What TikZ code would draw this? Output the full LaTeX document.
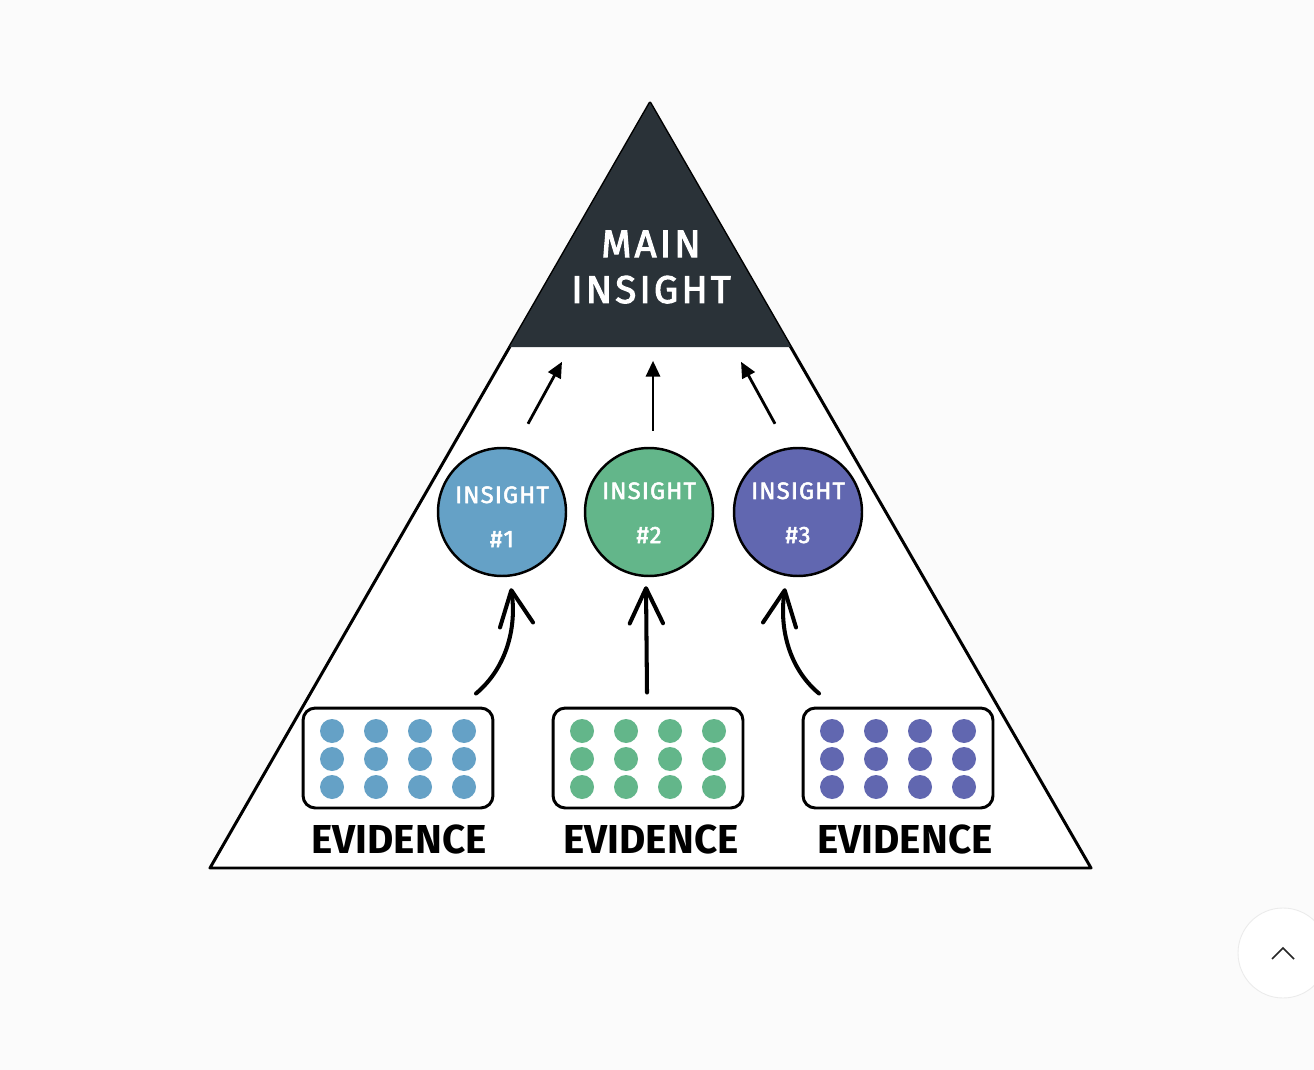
\documentclass[tikz,border=0pt]{standalone}
\usepackage{fontspec}
\setmainfont{Fira Sans}
\newfontfamily\medfont{Fira Sans}[FakeBold=2.6, LetterSpace=8]
\newfontfamily\medsmallfont{Fira Sans}[FakeBold=2.2, LetterSpace=5]
\usetikzlibrary{
    positioning,
    arrows.meta,
    calc
}
\definecolor{PageGray}{RGB}{251,251,251}
\definecolor{PeakDark}{RGB}{42,50,56}
\definecolor{InsBlue}{RGB}{101,161,198}
\definecolor{InsGreen}{RGB}{99,182,138}
\definecolor{InsPurple}{RGB}{97,103,176}
\definecolor{BtnEdge}{RGB}{235,235,235}

\begin{document}
\begin{tikzpicture}[
    x=0.02cm, y=-0.02cm,
    insight/.style={circle, draw, line width=1.4pt, minimum size=2.56cm, inner sep=0pt},
    evbox/.style={rectangle, rounded corners=7pt, draw, line width=1.7pt, minimum width=3.8cm, minimum height=2cm},
    evlbl/.style={font=\fontsize{23}{26}\selectfont\bfseries, anchor=base},
    inslbl/.style={font=\medsmallfont\fontsize{13.5}{16}\selectfont, text=white, anchor=base},
    toparr/.style={line width=1.6pt, -{Triangle[length=9pt, width=8pt]}},
    upcurve/.style={line width=2.3pt, line cap=round, -{Straight Barb[length=20pt, width=19pt, round]}},
]
\fill[PageGray] (0,0) rectangle (1314,1070);
\useasboundingbox (0,0) rectangle (1314,1070);

% pyramide
\coordinate (apex) at (650,103);
\coordinate (bl) at (210,868);
\coordinate (br) at (1091,868);
\filldraw[fill=white, line width=1.7pt, line join=round] (apex) -- (bl) -- (br) -- cycle;
\fill[PeakDark] (apex) -- ($(apex)!0.319!(bl)$) -- ($(apex)!0.319!(br)$) -- cycle;
\node[font=\medfont\fontsize{22}{26}\selectfont, text=white, align=center] (main) at (651,267) {MAIN\\INSIGHT};

% insights
\node[insight, fill=InsBlue] (ins1) at (502,512) {};
\node[insight, fill=InsGreen] (ins2) at (649,512) {};
\node[insight, fill=InsPurple] (ins3) at (798,512) {};
\node[inslbl] (ins1a) at (502,503) {INSIGHT};
\node[inslbl] (ins1b) at (502,547) {\#1};
\node[inslbl] (ins2a) at (649,499) {INSIGHT};
\node[inslbl] (ins2b) at (649,543) {\#2};
\node[inslbl] (ins3a) at (798,499) {INSIGHT};
\node[inslbl] (ins3b) at (798,543) {\#3};

\draw[toparr] ($(ins1.north)+(26,-23)$) -- ++(34,-62);
\draw[toparr] ($(ins2.north)+(4,-16)$) -- ++(0,-70);
\draw[toparr] ($(ins3.north)+(-23,-23)$) -- ++(-34,-62);

% evidence
\foreach \i/\x/\col in {1/398/InsBlue, 2/648/InsGreen, 3/898/InsPurple}{
  \node[evbox] (ev\i) at (\x,758) {};
  \foreach \dx in {-66,-22,22,66}
    \foreach \dy in {-27,1,29}
      \fill[\col] ($(ev\i)+(\dx,\dy)$) circle (12);
}
\node[evlbl] (ev1l) at (399,853) {EVIDENCE};
\node[evlbl] (ev2l) at (651,853) {EVIDENCE};
\node[evlbl] (ev3l) at (905,853) {EVIDENCE};

\draw[upcurve] ($(ev1.north)+(78,-13)$) .. controls +(30,-25) and +(6,40) .. ($(ins1.south)+(9,11)$);
\draw[upcurve] ($(ev2.north)+(-1,-14)$) -- ($(ins2.south)+(-3,9)$);
\draw[upcurve] ($(ev3.north)+(-79,-13)$) .. controls +(-30,-25) and +(-6,40) .. ($(ins3.south)+(-13,11)$);

% bouton
\node[circle, draw=BtnEdge, fill=white, minimum size=1.8cm, line width=0.5pt] (btn) at (1283,953) {};
\draw[line width=0.9pt, black!85] ($(btn)+(-11,6)$) -- ($(btn)+(0,-5)$) -- ($(btn)+(11,6)$);
\end{tikzpicture}
\end{document}
